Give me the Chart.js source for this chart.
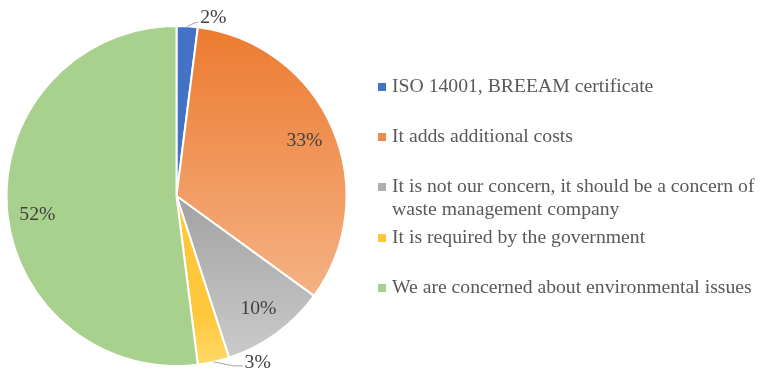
<!DOCTYPE html>
<html>
<head>
<meta charset="utf-8">
<script src="https://cdn.jsdelivr.net/npm/chart.js@4/dist/chart.umd.min.js"></script>
<style>
  html, body { margin: 0; padding: 0; background: #ffffff; }
  #wrap { width: 761px; height: 373px; }
</style>
</head>
<body>
<div id="wrap"><canvas id="pie" width="761" height="373"></canvas></div>
<script>
// Survey answers: why companies care about waste handling
const categories = [
  'ISO 14001, BREEAM certificate',
  'It adds additional costs',
  'It is not our concern, it should be a concern of waste management company',
  'It is required by the government',
  'We are concerned about environmental issues'
];
const shares = [2, 33, 10, 3, 52];
const valueLabels = ['2%', '33%', '10%', '3%', '52%'];

// Fill colours: [top, bottom] of each vertical gradient, with the range it spans (0..1 of the pie height)
const fills = [
  { from: '#4472C4', to: '#4472C4', a: 0, b: 1 },
  { from: '#EC7A2F', to: '#F5B487', a: 0.0, b: 0.82 },
  { from: '#A2A2A2', to: '#CDCDCD', a: 0.5, b: 1.0 },
  { from: '#FFC83C', to: '#FFD96C', a: 0.85, b: 1.0 },
  { from: '#A9D18E', to: '#A9D18E', a: 0, b: 1 }
];
const markerColors = ['#4472C4', '#EF8B4F', '#AFAFAF', '#FFC83C', '#A9D18E'];

function sliceFill(ctx) {
  const chart = ctx.chart;
  const area = chart.chartArea;
  const f = fills[ctx.dataIndex];
  if (!area) return f.from;
  const g = chart.ctx.createLinearGradient(0, area.top, 0, area.bottom);
  g.addColorStop(f.a, f.from);
  g.addColorStop(f.b, f.to);
  return g;
}

const LABEL_FONT = '19.7px "Liberation Serif", "Times New Roman", serif';

// Percent labels: inside the larger slices, with leader lines outside for the thin ones
const valueLabelPlugin = {
  id: 'valueLabels',
  afterDatasetsDraw(chart) {
    const ctx = chart.ctx;
    const meta = chart.getDatasetMeta(0);
    ctx.save();
    ctx.font = LABEL_FONT;
    ctx.fillStyle = '#404040';
    ctx.strokeStyle = '#A6A6A6';
    ctx.lineWidth = 1;
    meta.data.forEach((arc, i) => {
      const p = arc.getProps(['x', 'y', 'startAngle', 'endAngle', 'outerRadius'], true);
      const mid = (p.startAngle + p.endAngle) / 2;
      const cos = Math.cos(mid), sin = Math.sin(mid);
      const text = valueLabels[i];
      if (shares[i] >= 5) {
        // inside labels sit a little below the bisector on the wide slices
        const r = p.outerRadius * 0.82;
        const drop = shares[i] > 40 ? 10 : 0;
        ctx.textAlign = 'center';
        ctx.textBaseline = 'middle';
        ctx.fillText(text, p.x + cos * r, p.y + sin * r + drop);
      } else {
        const ex = p.x + cos * p.outerRadius;
        const ey = p.y + sin * p.outerRadius;
        const up = sin < 0;
        const kx = ex + (up ? 9 : 20);
        const ky = ey + (up ? -4 : 4);
        const hx = kx + (up ? 2 : 9);
        ctx.beginPath();
        ctx.moveTo(ex, ey);
        ctx.lineTo(kx, ky);
        ctx.lineTo(hx, ky);
        ctx.stroke();
        ctx.textAlign = 'left';
        ctx.textBaseline = 'middle';
        ctx.fillText(text, hx + 2, ky + (up ? -5 : -3));
      }
    });
    ctx.restore();
  }
};

// Legend on the right with wrapped entries
const sideLegendPlugin = {
  id: 'sideLegend',
  afterDraw(chart) {
    const ctx = chart.ctx;
    const left = 378, textX = 392, maxW = 366;
    const firstY = 87, step = 50, lineH = 23;
    ctx.save();
    ctx.font = LABEL_FONT;
    ctx.textAlign = 'left';
    ctx.textBaseline = 'middle';
    categories.forEach((label, i) => {
      const y = firstY + i * step + (i >= 3 ? 1 : 0);
      ctx.fillStyle = markerColors[i];
      ctx.fillRect(left, y - 4, 8, 8);
      const words = label.split(' ');
      const lines = [];
      let line = '';
      words.forEach(w => {
        const test = line ? line + ' ' + w : w;
        if (ctx.measureText(test).width > maxW && line) {
          lines.push(line);
          line = w;
        } else {
          line = test;
        }
      });
      lines.push(line);
      ctx.fillStyle = '#595959';
      lines.forEach((t, k) => ctx.fillText(t, textX, y + k * lineH));
    });
    ctx.restore();
  }
};

new Chart(document.getElementById('pie'), {
  type: 'pie',
  data: {
    labels: categories,
    datasets: [{
      data: shares,
      backgroundColor: sliceFill,
      borderColor: '#ffffff',
      borderWidth: 2
    }]
  },
  options: {
    responsive: false,
    animation: false,
    layout: { padding: { left: 5, right: 413, top: 25, bottom: 6 } },
    plugins: {
      legend: { display: false },
      tooltip: { enabled: false }
    }
  },
  plugins: [valueLabelPlugin, sideLegendPlugin]
});
</script>
</body>
</html>
